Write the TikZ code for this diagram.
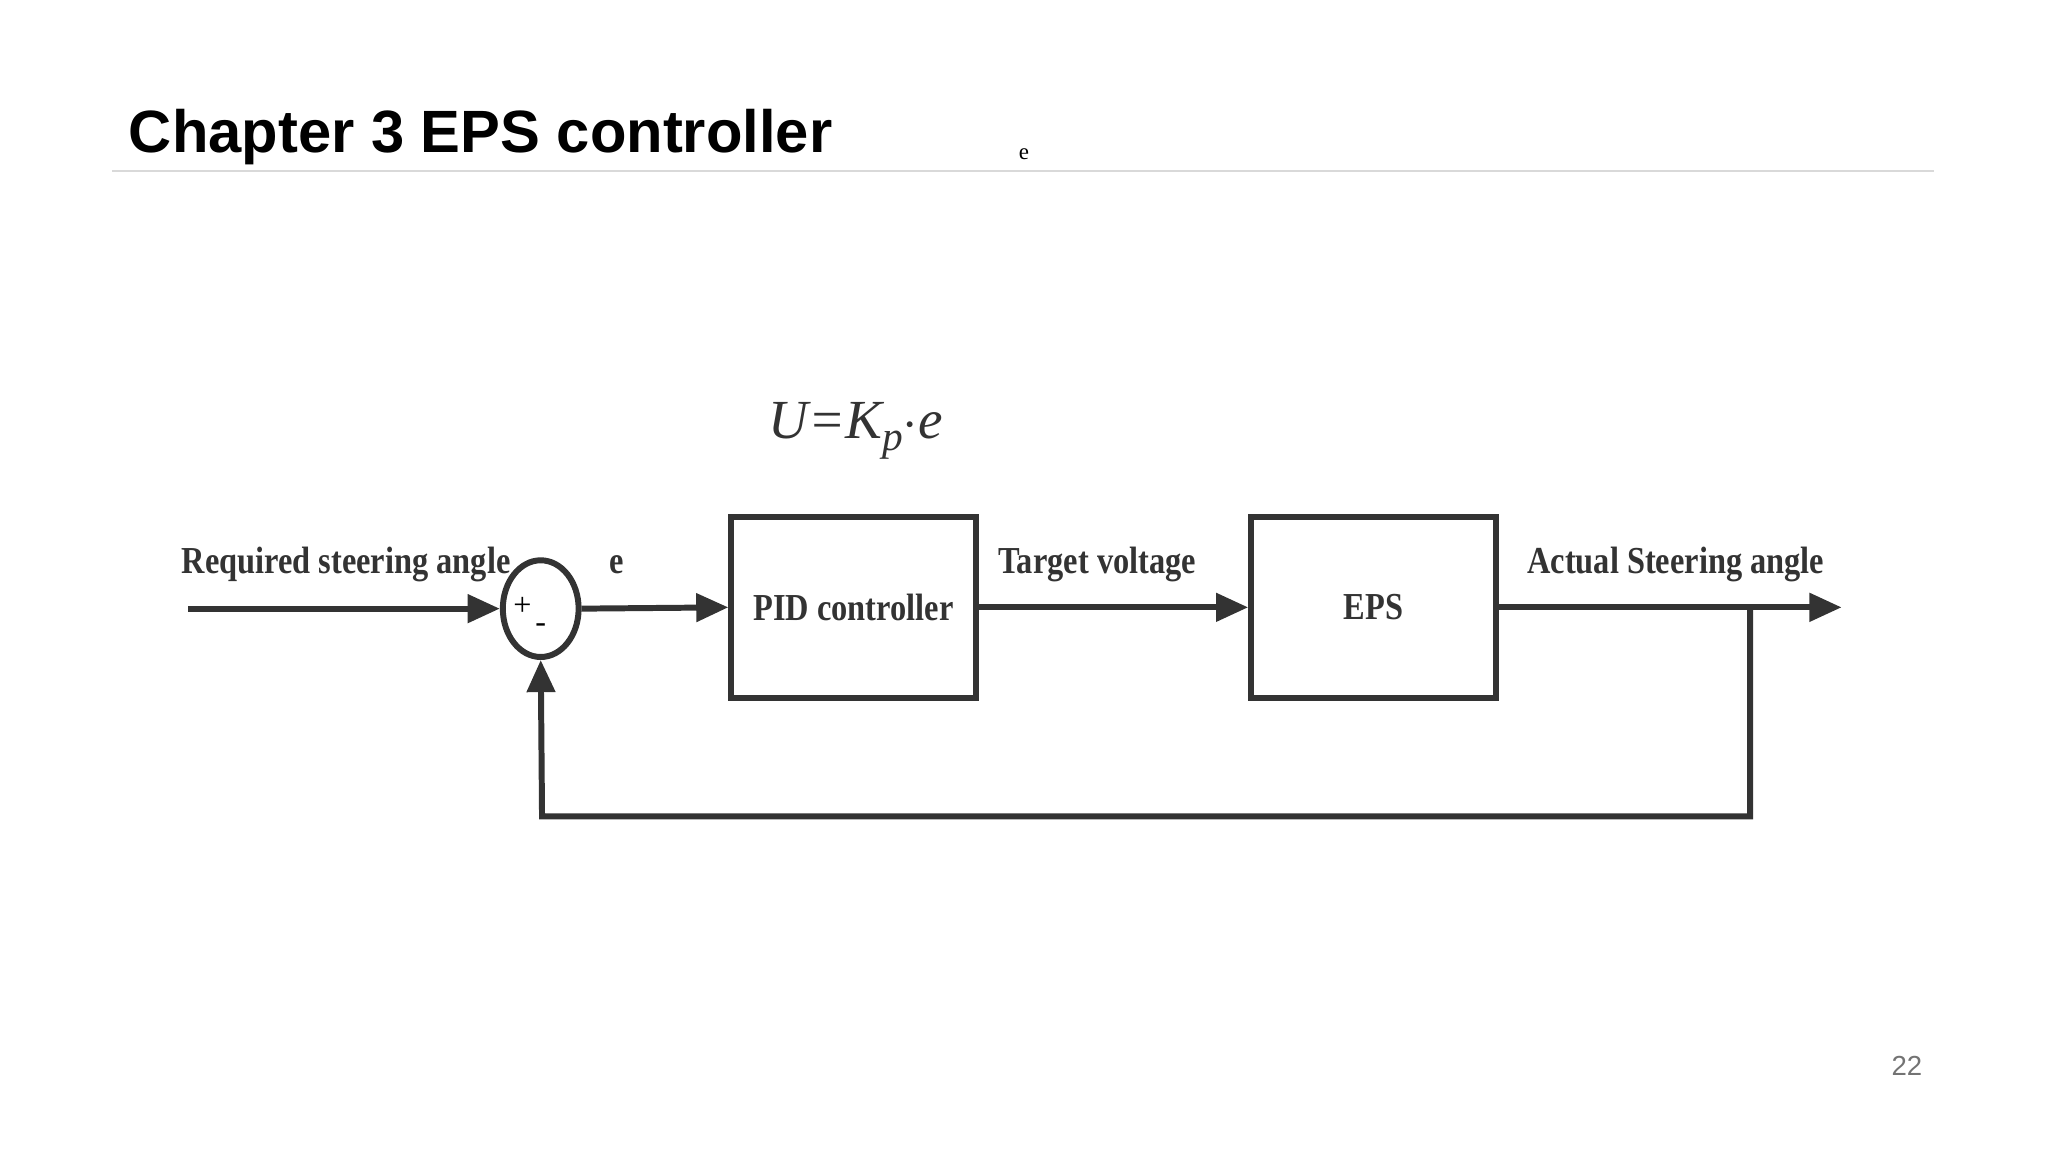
\documentclass[tikz,border=0pt]{standalone}
\usepackage{fontspec}
\setmainfont{Liberation Serif}
\newfontfamily\titlefont{Liberation Sans}
\newfontfamily\condfont[FakeStretch=0.85]{Liberation Serif}
\usetikzlibrary{arrows.meta,shapes.geometric}
\begin{document}
\begin{tikzpicture}[x=0.01cm,y=-0.01cm,
  ln/.style={draw=black!80,line width=1.3pt},
  arr/.style={ln,-{Triangle[length=7pt,width=6pt]}},
  blk/.style={ln,rectangle,minimum width=1.87cm,minimum height=1.38cm,inner sep=0,font=\condfont\fontsize{8.3}{10}\selectfont\bfseries,text=black!80},
  lbl/.style={font=\condfont\fontsize{8.3}{10}\selectfont\bfseries,text=black!80}]
\useasboundingbox (0,0) rectangle (1568,882);
\node[anchor=base west,font=\titlefont\fontsize{13}{15}\selectfont\bfseries,inner sep=0] (title) at (98,117) {Chapter 3 EPS controller};
\node[font=\fontsize{5}{6}\selectfont] (esmall) at (784,118) {e};
\draw[black!15,line width=0.6pt] (86,131) -- (1481,131);
\node[font=\fontsize{12}{14}\selectfont\itshape,text=black!80] (eq) at (655,330) {U=K\raisebox{-0.5ex}{\fontsize{9}{10}\selectfont p}$\cdot$e};
\node[ln,ellipse,minimum width=0.58cm,minimum height=0.74cm,inner sep=0] (sum) at (414,466) {};
\node[font=\fontsize{7}{8}\selectfont] (plus) at (400,464) {+};
\node[font=\fontsize{7}{8}\selectfont] (minus) at (414,481) {-};
\node[blk] (pid) at (653.5,465) {PID controller};
\node[blk] (eps) at (1051.5,465) {EPS};
\coordinate (in) at (144,466);
\coordinate (out) at (1410,465);
\coordinate (tap) at (1340,465);
\coordinate (bl) at (415,625);
\coordinate (br) at (1340,625);
\draw[arr] (in) -- (sum.west);
\draw[arr] (sum.east) -- (pid.west);
\draw[arr] (pid.east) -- (eps.west);
\draw[arr] (eps.east) -- (out);
\draw[arr] (tap) -- (br) -- (bl) -- (sum.south);
\node[lbl] (l1) at (265,432) {Required steering angle};
\node[lbl] (l2) at (472,432) {e};
\node[lbl] (l3) at (840,432) {Target voltage};
\node[lbl] (l4) at (1283,432) {Actual Steering angle};
\node[font=\titlefont\fontsize{6}{7}\selectfont,text=black!55] (pg) at (1460,816) {22};
\end{tikzpicture}
\end{document}
